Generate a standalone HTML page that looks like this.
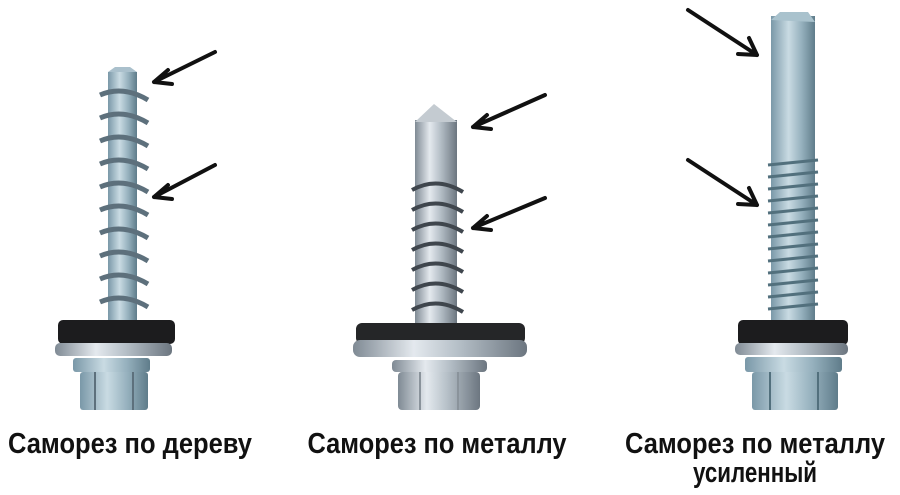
<!DOCTYPE html>
<html><head><meta charset="utf-8"><style>
html,body{margin:0;padding:0;background:#fff;}
svg{display:block}
text{font-family:"Liberation Sans Narrow","Liberation Sans",sans-serif;font-weight:bold;fill:#111;}
</style></head><body>
<svg width="900" height="495" viewBox="0 0 900 495" xmlns="http://www.w3.org/2000/svg">
<defs>
<linearGradient id="m" x1="0" x2="1" y1="0" y2="0">
<stop offset="0" stop-color="#7f8a94"/><stop offset="0.35" stop-color="#e4e9ee"/><stop offset="0.6" stop-color="#b6c0c8"/><stop offset="1" stop-color="#6c7680"/></linearGradient>
<linearGradient id="b" x1="0" x2="1" y1="0" y2="0">
<stop offset="0" stop-color="#7a98a8"/><stop offset="0.4" stop-color="#c9dbe3"/><stop offset="0.7" stop-color="#95b0bd"/><stop offset="1" stop-color="#5f7c8a"/></linearGradient>
<pattern id="t1" width="10" height="24" patternUnits="userSpaceOnUse"><rect width="10" height="24" fill="none"/><path d="M0 6 L10 10" stroke="#4b5560" stroke-width="3"/></pattern>
</defs>

<!-- Screw 1 -->
<rect x="108" y="72" width="29" height="250" fill="url(#b)"/>
<path d="M108 72 L115 67 L130 67 L137 72 Z" fill="#aac0cc"/>
<g stroke="#5d707c" stroke-width="5" fill="none">
<path d="M100 95 Q123 85 148 100"/><path d="M100 118 Q123 108 148 123"/><path d="M100 141 Q123 131 148 146"/><path d="M100 164 Q123 154 148 169"/><path d="M100 187 Q123 177 148 192"/><path d="M100 210 Q123 200 148 215"/><path d="M100 233 Q123 223 148 238"/><path d="M100 256 Q123 246 148 261"/><path d="M100 279 Q123 269 148 284"/><path d="M100 302 Q123 292 148 307"/>
</g>
<rect x="58" y="320" width="117" height="24" rx="5" fill="#1c1c1e"/>
<rect x="55" y="343" width="117" height="13" rx="5" fill="url(#m)"/>
<rect x="73" y="358" width="77" height="14" rx="3" fill="url(#b)"/>
<rect x="80" y="372" width="68" height="38" rx="3" fill="url(#b)"/>
<line x1="95" y1="372" x2="95" y2="410" stroke="#5d707c" stroke-width="2"/><line x1="133" y1="372" x2="133" y2="410" stroke="#5d707c" stroke-width="2"/>

<!-- Screw 2 -->
<rect x="415" y="120" width="42" height="205" fill="url(#m)"/>
<path d="M415 122 L434 104 L457 122 Z" fill="#c4cbd1"/>
<g stroke="#3f464d" stroke-width="4" fill="none">
<path d="M412 190 Q437 176 463 192"/><path d="M412 210 Q437 196 463 212"/><path d="M412 230 Q437 216 463 232"/><path d="M412 250 Q437 236 463 252"/><path d="M412 270 Q437 256 463 272"/><path d="M412 290 Q437 276 463 292"/><path d="M412 310 Q437 296 463 312"/>
</g>
<rect x="356" y="323" width="169" height="21" rx="6" fill="#252628"/>
<rect x="353" y="340" width="174" height="17" rx="7" fill="url(#m)"/>
<rect x="392" y="360" width="95" height="12" rx="4" fill="url(#m)"/>
<rect x="398" y="372" width="82" height="38" rx="4" fill="url(#m)"/>
<line x1="420" y1="372" x2="420" y2="410" stroke="#8a939b" stroke-width="2"/><line x1="458" y1="372" x2="458" y2="410" stroke="#8a939b" stroke-width="2"/>

<!-- Screw 3 -->
<rect x="771" y="16" width="44" height="306" fill="url(#b)"/>
<path d="M771 20 L780 12 L808 12 L815 22 Z" fill="#a9c2cd"/>
<g stroke="#52707d" stroke-width="3" fill="none">
<path d="M768 165 L818 160"/><path d="M768 177 L818 172"/><path d="M768 189 L818 184"/><path d="M768 201 L818 196"/><path d="M768 213 L818 208"/><path d="M768 225 L818 220"/><path d="M768 237 L818 232"/><path d="M768 249 L818 244"/><path d="M768 261 L818 256"/><path d="M768 273 L818 268"/><path d="M768 285 L818 280"/><path d="M768 297 L818 292"/><path d="M768 309 L818 304"/>
</g>
<rect x="738" y="320" width="110" height="25" rx="5" fill="#1c1c1e"/>
<rect x="735" y="343" width="113" height="12" rx="5" fill="url(#m)"/>
<rect x="745" y="357" width="97" height="15" rx="3" fill="url(#b)"/>
<rect x="752" y="372" width="86" height="38" rx="3" fill="url(#b)"/>
<line x1="770" y1="372" x2="770" y2="410" stroke="#52707d" stroke-width="2"/><line x1="818" y1="372" x2="818" y2="410" stroke="#52707d" stroke-width="2"/>

<!-- Arrows -->
<g stroke="#111" stroke-width="4" fill="none" stroke-linecap="round" stroke-linejoin="round">
<path d="M215 52 L154 82 M154 82 L168 70 M154 82 L172 84"/>
<path d="M215 165 L154 197 M154 197 L168 185 M154 197 L172 199"/>
<path d="M545 95 L473 127 M473 127 L487 115 M473 127 L491 129"/>
<path d="M545 198 L473 228 M473 228 L487 216 M473 228 L491 230"/>
<path d="M688 10 L757 55 M757 55 L738 54 M757 55 L749 38"/>
<path d="M688 160 L757 205 M757 205 L738 204 M757 205 L749 188"/>
</g>

<text x="130" y="453" font-size="29" text-anchor="middle" textLength="244" lengthAdjust="spacingAndGlyphs">Саморез по дереву</text>
<text x="437" y="453" font-size="29" text-anchor="middle" textLength="259" lengthAdjust="spacingAndGlyphs">Саморез по металлу</text>
<text x="755" y="453" font-size="29" text-anchor="middle" textLength="260" lengthAdjust="spacingAndGlyphs">Саморез по металлу</text>
<text x="755" y="482" font-size="29" text-anchor="middle" textLength="124" lengthAdjust="spacingAndGlyphs">усиленный</text>
</svg>
</body></html>
